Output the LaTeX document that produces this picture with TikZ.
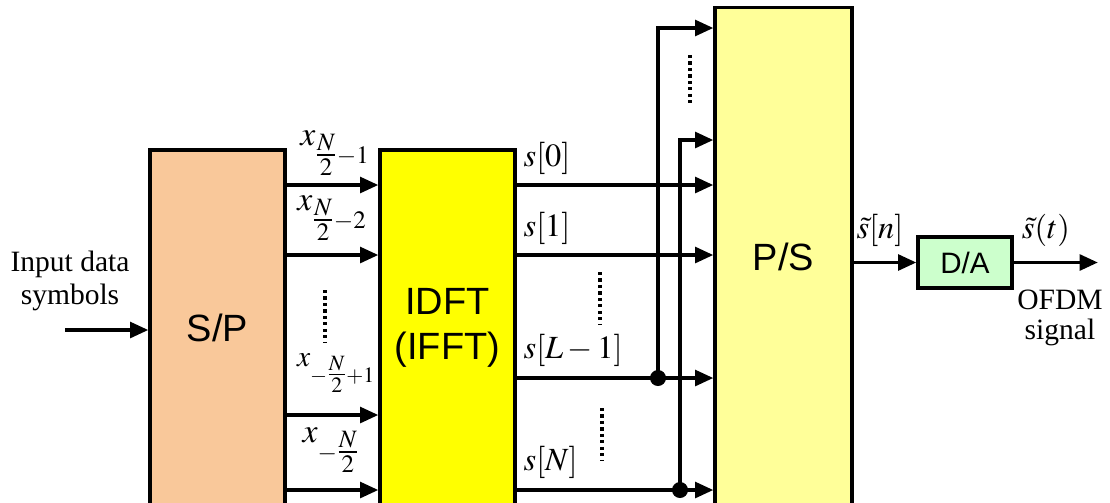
\documentclass[tikz,border=0pt]{standalone}
\usepackage{mathptmx}
\usepackage{fontspec}
\setmainfont{Liberation Serif}
\setsansfont{Liberation Sans}
\usepackage{tikz}
\usetikzlibrary{arrows.meta,positioning,calc}
\usepackage{xcolor}
\definecolor{spfill}{HTML}{F9C89A}
\definecolor{idftfill}{HTML}{FFFF00}
\definecolor{psfill}{HTML}{FFFF99}
\definecolor{dafill}{HTML}{CCFFCC}
\tikzset{
  box/.style={draw=black, line width=2.2pt, rectangle, align=center,
              font=\sffamily\fontsize{27}{32}\selectfont, inner sep=0pt},
  ar/.style={-{Triangle[length=13pt, width=11pt]}, line width=2.8pt},
  lbl/.style={font=\fontsize{21}{25}\selectfont, inner sep=1pt},
  mlbl/.style={font=\fontsize{23}{27}\selectfont, inner sep=1pt},
  xlbl/.style={font=\fontsize{24}{28}\selectfont, inner sep=1pt},
  vdots/.style={line width=3pt, dash pattern=on 2.2pt off 2.4pt}
}
\begin{document}
\begin{tikzpicture}[x=0.025cm,y=-0.025cm]
  \useasboundingbox (0,0) rectangle (1110,502);

  % blocks
  \node[box, fill=spfill, minimum width=3.375cm, minimum height=8.9cm] (sp) at (217.5,328) {S/P};
  \node[box, fill=idftfill, minimum width=3.375cm, minimum height=8.9cm] (idft) at (447.5,328) {IDFT\\(IFFT)};
  \node[box, fill=psfill, minimum width=3.425cm, minimum height=12.45cm] (ps) at (783.5,257) {\raisebox{-4pt}{P/S}};
  \node[box, fill=dafill, minimum width=2.35cm, minimum height=1.275cm,
        font=\sffamily\fontsize{21}{25}\selectfont] (da) at (965,262.5) {D/A};

  % rows
  \coordinate (in) at (65,330);
  \coordinate (a1) at (0,185);
  \coordinate (a2) at (0,255);
  \coordinate (a3) at (0,415);
  \coordinate (a4) at (0,490);
  \coordinate (b3) at (0,378);
  \coordinate (t1) at (0,28);
  \coordinate (t2) at (0,140);
  \coordinate (j1) at (658,378);
  \coordinate (j2) at (680,490);
  \coordinate (out) at (1098,262.5);

  % input
  \draw[ar] (in) -- (in -| sp.west);
  \node[lbl, align=center, font=\fontsize{21}{23}\selectfont] (inlbl) at (70,281) {Input data\\symbols};

  % S/P to IDFT
  \foreach \r in {a1,a2,a3,a4}
    \draw[ar] (sp.east |- \r) -- (idft.west |- \r);
  \node[xlbl] (x1) at (335,153) {$x_{{\textstyle\frac{N}{2}}-1}$};
  \node[xlbl] (x2) at (332,218) {$x_{{\textstyle\frac{N}{2}}-2}$};
  \node[xlbl, font=\fontsize{21}{25}\selectfont] (x3) at (336,373) {$x_{-{\textstyle\frac{N}{2}}+1}$};
  \node[xlbl] (x4) at (331,450) {$x_{-{\textstyle\frac{N}{2}}}$};
  \draw[vdots] (325,290) -- (325,342);

  % IDFT to P/S
  \foreach \r in {a1,a2,b3,a4}
    \draw[ar] (idft.east |- \r) -- (ps.west |- \r);
  \node[mlbl, anchor=west] (s0) at (522,158) {$s[0]$};
  \node[mlbl, anchor=west] (s1) at (522,228) {$s[1]$};
  \node[mlbl, anchor=west] (sl) at (522,350) {$s[L-1]$};
  \node[mlbl, anchor=west] (sn) at (522,462) {$s[N]$};
  \draw[vdots] (600,272) -- (600,324);
  \draw[vdots] (602,408) -- (602,460);

  % cyclic prefix copies
  \draw[ar] (j1) -- (j1 |- t1) -- (ps.west |- t1);
  \draw[ar] (j2) -- (j2 |- t2) -- (ps.west |- t2);
  \fill (j1) circle (8);
  \fill (j2) circle (8);
  \draw[vdots] (690,55) -- (690,105);

  % output
  \draw[ar] (ps.east |- da) -- (da.west);
  \draw[ar] (da.east) -- (out);
  \node[mlbl] (sn1) at (880,230) {$\tilde{s}[n]$};
  \node[mlbl] (st) at (1046,230) {$\tilde{s}(t)$};
  \node[lbl, align=center, font=\fontsize{21}{21}\selectfont] (ofdm) at (1060,318) {OFDM\\signal};
\end{tikzpicture}
\end{document}
